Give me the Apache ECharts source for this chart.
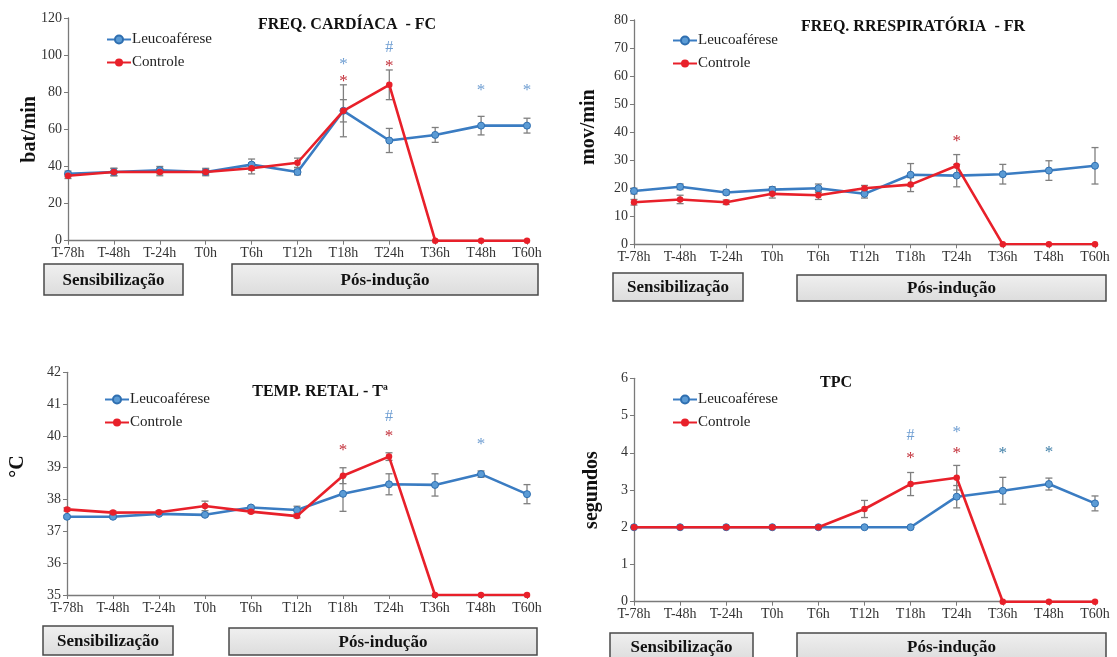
<!DOCTYPE html>
<html>
<head>
<meta charset="utf-8">
<script src="https://cdn.jsdelivr.net/npm/echarts@6/dist/echarts.min.js"></script>
<style>html,body{margin:0;padding:0;background:#fff}#c{width:1117px;height:657px}</style>
</head>
<body>
<div id="c"></div>
<script>
const categories = ['T-78h','T-48h','T-24h','T0h','T6h','T12h','T18h','T24h','T36h','T48h','T60h'];

// FREQ. CARDÍACA - FC
const fcLeuco    = [36, 37, 38, 37, 41, 37, 70, 54, 57, 62, 62];
const fcLeucoErr = [1.5, 2, 2, 1.5, 3, 1.5, 6, 6.5, 4, 5, 4];
const fcCtrl     = [35, 37, 37, 37, 39, 42, 70, 84, 0, 0, 0];
const fcCtrlErr  = [1.5, 2, 2, 2, 3, 2.5, 14, 8, null, null, null];
const fcMarks    = [['T18h', 97, '*', 'b'], ['T18h', 88, '*', 'r'], ['T24h', 104, '#', 'b'], ['T24h', 96, '*', 'r'], ['T48h', 83, '*', 'b'], ['T60h', 83, '*', 'b']];

// FREQ. RESPIRATÓRIA - FR
const frLeuco    = [19, 20.5, 18.5, 19.5, 20, 18, 24.8, 24.5, 25, 26.3, 28];
const frLeucoErr = [1, 1, 0.8, 1, 1.5, 1.5, 4, 4, 3.5, 3.5, 6.5];
const frCtrl     = [15, 16, 15, 18, 17.5, 20, 21.3, 28, 0, 0, 0];
const frCtrlErr  = [1, 1.5, 0.8, 1.5, 1.5, 1, 2.5, 4, null, null, null];
const frMarks    = [['T24h', 38, '*', 'r']];

// TEMP. RETAL - Tª
const tLeuco     = [37.46, 37.46, 37.55, 37.52, 37.75, 37.67, 38.18, 38.48, 38.46, 38.8, 38.17];
const tLeucoErr  = [0.04, 0.05, 0.04, 0.05, 0.05, 0.12, 0.55, 0.33, 0.35, 0.1, 0.3];
const tCtrl      = [37.69, 37.59, 37.6, 37.8, 37.62, 37.48, 38.75, 39.35, 35, 35, 35];
const tCtrlErr   = [0.05, 0.05, 0.05, 0.15, 0.05, 0.05, 0.25, 0.12, null, null, null];
const tMarks     = [['T18h', 39.68, '*', 'r'], ['T24h', 40.12, '*', 'r'], ['T24h', 40.6, '#', 'b'], ['T48h', 39.85, '*', 'b']];

// TPC
const tpcLeuco    = [2, 2, 2, 2, 2, 2, 2, 2.82, 2.98, 3.16, 2.64];
const tpcLeucoErr = [null, null, null, null, null, null, null, 0.3, 0.36, 0.16, 0.2];
const tpcCtrl     = [2, 2, 2, 2, 2, 2.49, 3.16, 3.33, 0, 0, 0];
const tpcCtrlErr  = [null, null, null, null, null, 0.23, 0.31, 0.33, null, null, null];
const tpcMarks    = [['T18h', 3.96, '*', 'r'], ['T18h', 4.46, '#', 'b'], ['T24h', 4.08, '*', 'r'], ['T24h', 4.66, '*', 'b'], ['T36h', 4.08, '*', 't'], ['T48h', 4.12, '*', 't']];

const yTicks = [
  {min: 0, max: 120, interval: 20, name: 'bat/min'},
  {min: 0, max: 80, interval: 10, name: 'mov/min'},
  {min: 35, max: 42, interval: 1, name: '°C'},
  {min: 0, max: 6, interval: 1, name: 'segundos'}
];

const FONT = 'Liberation Serif';
const BLUE = '#3a7cc2', RED = '#e8202a', GREY = '#7f7f7f';
const markColors = {b: '#6f9ed2', r: '#c3303a', t: '#3f7fa8'};

const grids = [
  {left: 68, top: 18, width: 459, height: 222.7},
  {left: 634, top: 20, width: 461, height: 224.3},
  {left: 67, top: 372.3, width: 460, height: 222.7},
  {left: 634, top: 378.3, width: 461, height: 223.4}
];
const nameGaps = [28, 35, 39, 32];
const namePads = [0, 10, 34, 0];
const legendPos = [{left: 101, top: 27}, {left: 667, top: 28}, {left: 99, top: 387}, {left: 667, top: 387}];

const panels = [
  [fcLeuco, fcLeucoErr, fcCtrl, fcCtrlErr, fcMarks],
  [frLeuco, frLeucoErr, frCtrl, frCtrlErr, frMarks],
  [tLeuco, tLeucoErr, tCtrl, tCtrlErr, tMarks],
  [tpcLeuco, tpcLeucoErr, tpcCtrl, tpcCtrlErr, tpcMarks]
];

function errData(vals, errs) {
  const out = [];
  vals.forEach((v, i) => { if (errs[i] != null) out.push([i, v - errs[i], v + errs[i]]); });
  return out;
}

const xAxis = [], yAxis = [], series = [], legend = [];
panels.forEach((p, k) => {
  xAxis.push({
    type: 'category', gridIndex: k, data: categories, boundaryGap: false,
    axisLine: {lineStyle: {color: '#7a7a7a', width: 1.3}},
    axisTick: {show: true, length: 4, lineStyle: {color: '#7a7a7a'}},
    axisLabel: {fontFamily: FONT, fontSize: 14, color: '#333', margin: 6, interval: 0},
    splitLine: {show: false}
  });
  const yt = yTicks[k];
  yAxis.push({
    type: 'value', gridIndex: k, min: yt.min, max: yt.max, interval: yt.interval,
    name: yt.name, nameLocation: 'middle', nameGap: nameGaps[k], nameMoveOverlap: false,
    nameTextStyle: {fontFamily: FONT, fontWeight: 'bold', fontSize: 20, color: '#111', padding: [0, 0, 0, namePads[k]]},
    axisLine: {show: true, lineStyle: {color: '#7a7a7a', width: 1.3}},
    axisTick: {show: true, length: 4, lineStyle: {color: '#7a7a7a'}},
    axisLabel: {fontFamily: FONT, fontSize: 14, color: '#333', margin: 6},
    splitLine: {show: false}
  });
  legend.push({
    data: ['Leucoaférese', 'Controle'], orient: 'vertical',
    left: legendPos[k].left, top: legendPos[k].top,
    itemWidth: 24, itemHeight: 10, itemGap: 8,
    textStyle: {fontFamily: FONT, fontSize: 15, color: '#222', padding: [0, 0, 0, -4]},
    selectedMode: false
  });
  series.push({
    type: 'custom', name: 'err' + k, xAxisIndex: k, yAxisIndex: k, z: 1,
    data: errData(p[0], p[1]).concat(errData(p[2], p[3])),
    renderItem: function (params, api) {
      const lo = api.coord([api.value(0), api.value(1)]);
      const hi = api.coord([api.value(0), api.value(2)]);
      const w = 3.5;
      const st = {stroke: GREY, lineWidth: 1.3};
      return {type: 'group', children: [
        {type: 'line', shape: {x1: lo[0], y1: lo[1], x2: hi[0], y2: hi[1]}, style: st},
        {type: 'line', shape: {x1: lo[0] - w, y1: lo[1], x2: lo[0] + w, y2: lo[1]}, style: st},
        {type: 'line', shape: {x1: hi[0] - w, y1: hi[1], x2: hi[0] + w, y2: hi[1]}, style: st}
      ]};
    },
    silent: true
  });
  series.push({
    type: 'line', name: 'Leucoaférese', xAxisIndex: k, yAxisIndex: k, z: 3,
    data: p[0], symbol: 'circle', symbolSize: 7,
    lineStyle: {color: BLUE, width: 2.6},
    itemStyle: {color: '#5b9bd5', borderColor: '#2f6fb0', borderWidth: 1}
  });
  series.push({
    type: 'line', name: 'Controle', xAxisIndex: k, yAxisIndex: k, z: 4,
    data: p[2], symbol: 'circle', symbolSize: 6.5,
    lineStyle: {color: RED, width: 2.6},
    itemStyle: {color: RED, borderColor: RED, borderWidth: 0}
  });
  const marks = p[4];
  series.push({
    type: 'custom', name: 'sig' + k, xAxisIndex: k, yAxisIndex: k, z: 5,
    data: marks.map(m => [categories.indexOf(m[0]), m[1]]),
    renderItem: function (params, api) {
      const m = marks[params.dataIndex];
      const pt = api.coord([api.value(0), api.value(1)]);
      const star = m[2] === '*';
      return {type: 'text', x: pt[0], y: pt[1] + (star ? 4 : 0), style: {
        text: m[2], fill: markColors[m[3]], font: (star ? '17px ' : '16px ') + FONT,
        align: 'center', verticalAlign: 'middle'
      }};
    },
    silent: true
  });
});

function box(x, y, w, h, label) {
  return {type: 'group', children: [
    {type: 'rect', shape: {x: x, y: y, width: w, height: h},
     style: {fill: new echarts.graphic.LinearGradient(0, 0, 0, 1, [{offset: 0, color: '#f0f0f0'}, {offset: 1, color: '#dcdcdc'}]), stroke: '#4a4a4a', lineWidth: 1.5}},
    {type: 'text', x: x + w / 2, y: y + h / 2 + 1, style: {text: label, font: 'bold 17px ' + FONT, fill: '#111', align: 'center', verticalAlign: 'middle'}}
  ]};
}
function title(x, y, t) {
  return {type: 'text', x: x, y: y, style: {text: t, font: 'bold 16px ' + FONT, fill: '#111', align: 'center', verticalAlign: 'middle'}};
}

const graphic = [
  title(347, 25, 'FREQ. CARDÍACA  - FC'),
  title(913, 27, 'FREQ. RRESPIRATÓRIA  - FR'),
  title(320, 392, 'TEMP. RETAL - Tª'),
  title(836, 383, 'TPC'),
  box(44, 264, 139, 31, 'Sensibilização'),
  box(232, 264, 306, 31, 'Pós-indução'),
  box(613, 273, 130, 28, 'Sensibilização'),
  box(797, 275, 309, 26, 'Pós-indução'),
  box(43, 626, 130, 29, 'Sensibilização'),
  box(229, 628, 308, 27, 'Pós-indução'),
  box(610, 633, 143, 28, 'Sensibilização'),
  box(797, 633, 309, 28, 'Pós-indução')
];

const chart = echarts.init(document.getElementById('c'), null, {renderer: 'canvas'});
chart.setOption({
  animation: false,
  backgroundColor: '#fff',
  grid: grids,
  xAxis: xAxis,
  yAxis: yAxis,
  legend: legend,
  series: series,
  graphic: graphic
});
</script>
</body>
</html>
